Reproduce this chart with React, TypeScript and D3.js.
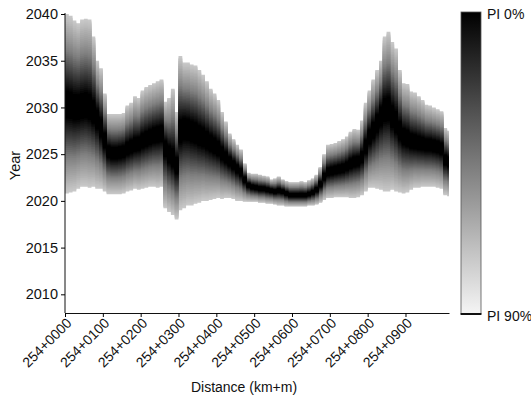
import React, { useEffect, useRef } from 'react';
import * as d3 from 'd3';

// distance along the line (m after km 254), one column every 10 m
const distances = [
  0, 10, 20, 30, 40, 50, 60, 70, 80, 90,
  100, 110, 120, 130, 140, 150, 160, 170, 180, 190,
  200, 210, 220, 230, 240, 250, 260, 270, 280, 290,
  300, 310, 320, 330, 340, 350, 360, 370, 380, 390,
  400, 410, 420, 430, 440, 450, 460, 470, 480, 490,
  500, 510, 520, 530, 540, 550, 560, 570, 580, 590,
  600, 610, 620, 630, 640, 650, 660, 670, 680, 690,
  700, 710, 720, 730, 740, 750, 760, 770, 780, 790,
  800, 810, 820, 830, 840, 850, 860, 870, 880, 890,
  900, 910, 920, 930, 940, 950, 960, 970, 980, 990,
  1000, 1010,
];
const lastDistance = 1015;

// upper bound of the 90% prediction interval (year)
const upper90 = [
  2040.0, 2039.8, 2039.3, 2039.0, 2039.4, 2039.5, 2039.4, 2037.6, 2035.0, 2034.2,
  2031.5, 2029.3, 2029.3, 2029.3, 2029.3, 2029.4, 2030.2, 2030.5, 2031.2, 2031.0,
  2031.8, 2032.2, 2032.4, 2032.6, 2032.8, 2033.0, 2030.6, 2031.0, 2032.0, 2029.5,
  2035.5, 2034.8, 2034.8, 2034.6, 2034.5, 2034.0, 2033.5, 2032.8, 2032.0, 2031.5,
  2030.8, 2029.5, 2028.5, 2027.2, 2026.6, 2026.0, 2025.5, 2024.0, 2023.0, 2022.9,
  2022.9, 2022.8, 2022.7, 2022.6, 2022.3, 2022.4, 2022.6, 2022.3, 2022.1, 2022.0,
  2022.0, 2022.0, 2022.1, 2022.0, 2022.2, 2022.4, 2022.8, 2023.6, 2025.0, 2026.0,
  2026.1, 2026.2, 2026.4, 2026.6, 2026.9, 2027.4, 2027.7, 2027.6, 2028.6, 2030.5,
  2031.8, 2033.0, 2034.0, 2035.0, 2037.6, 2038.1, 2037.0, 2036.3, 2034.0, 2032.6,
  2032.5, 2031.7, 2031.6, 2031.2, 2030.8, 2030.3, 2030.2, 2030.0, 2029.8, 2029.6,
  2027.8, 2027.5,
];

// median forecast year
const median = [
  2030.3, 2030.2, 2030.0, 2030.0, 2030.1, 2030.2, 2030.0, 2029.5, 2028.8, 2027.8,
  2026.5, 2025.3, 2025.1, 2025.1, 2025.2, 2025.3, 2025.6, 2025.8, 2026.0, 2026.1,
  2026.4, 2026.6, 2026.8, 2027.0, 2027.1, 2027.2, 2025.7, 2025.0, 2024.5, 2023.8,
  2027.5, 2027.8, 2027.7, 2027.5, 2027.3, 2027.0, 2026.8, 2026.5, 2026.2, 2025.9,
  2025.6, 2025.1, 2024.7, 2024.3, 2023.9, 2023.5, 2023.1, 2022.3, 2021.7, 2021.5,
  2021.4, 2021.3, 2021.3, 2021.2, 2021.1, 2021.0, 2021.1, 2021.0, 2020.8, 2020.6,
  2020.6, 2020.6, 2020.6, 2020.6, 2020.7, 2020.9, 2021.2, 2021.8, 2022.6, 2023.1,
  2023.2, 2023.3, 2023.4, 2023.5, 2023.7, 2024.0, 2024.2, 2024.3, 2024.7, 2025.8,
  2026.9, 2027.6, 2028.4, 2029.2, 2029.8, 2029.9, 2029.0, 2028.4, 2027.5, 2026.9,
  2026.7, 2026.4, 2026.3, 2026.2, 2026.1, 2026.0, 2026.0, 2025.9, 2025.8, 2025.6,
  2024.4, 2024.2,
];

// lower bound of the 90% prediction interval (year)
const lower90 = [
  2020.8, 2020.9, 2021.0, 2021.3, 2021.5, 2021.5, 2021.4, 2021.5, 2021.3, 2021.3,
  2021.0, 2020.7, 2020.7, 2020.7, 2020.7, 2020.8, 2021.0, 2021.1, 2021.3, 2021.2,
  2021.3, 2021.4, 2021.5, 2021.5, 2021.4, 2021.5, 2019.2, 2018.8, 2018.5, 2018.0,
  2019.0, 2019.2, 2019.5, 2019.5, 2019.7, 2019.8, 2020.0, 2020.0, 2020.1, 2020.2,
  2020.3, 2020.2, 2020.3, 2020.3, 2020.2, 2020.0, 2020.0, 2019.9, 2019.9, 2019.9,
  2019.9, 2019.8, 2019.8, 2019.7, 2019.7, 2019.6, 2019.5, 2019.5, 2019.4, 2019.4,
  2019.4, 2019.4, 2019.4, 2019.4, 2019.5, 2019.5, 2019.6, 2019.8, 2020.1, 2020.3,
  2020.3, 2020.4, 2020.4, 2020.4, 2020.4, 2020.3, 2020.3, 2020.4, 2020.6, 2021.0,
  2021.4, 2021.4, 2021.3, 2021.2, 2021.0, 2021.0, 2021.2, 2021.0, 2020.9, 2020.8,
  2020.9, 2021.2, 2021.4, 2021.4, 2021.5, 2021.5, 2021.5, 2021.5, 2021.4, 2021.3,
  2020.6, 2020.5,
];

const xTicks = [0, 100, 200, 300, 400, 500, 600, 700, 800, 900];
const yTicks = [2010, 2015, 2020, 2025, 2030, 2035, 2040];
const levelTicks = ['PI 0%', 'PI 90%'];

const FONT = '"Liberation Sans", Arial, Helvetica, sans-serif';

const App = () => {
  const ref = useRef<SVGSVGElement>(null);

  useEffect(() => {
    const svg = d3.select(ref.current);
    svg.selectAll('*').remove();

    const x = d3.scaleLinear().domain([0, lastDistance]).range([65, 449]);
    const y = d3.scaleLinear().domain([2008, 2040]).range([313, 14]);
    // colour bar scale
    const shade = d3.scaleLinear<string>().domain([0, 90]).range(['#000000', '#f5f5f5']);
    // grey used inside the fan (as rendered: black core, light grey rim)
    const fanShade = d3.scaleLinear<string>()
      .domain([0, 14, 55, 90])
      .range(['#000000', '#000000', '#808080', '#c8c8c8']);

    const cols = distances.map((d, i) => ({ d, up: upper90[i], med: median[i], lo: lower90[i] }));
    // close the last column
    cols.push({ ...cols[cols.length - 1], d: lastDistance });

    // nested prediction interval bands, widest (lightest) first
    const levels = d3.range(90, 0, -2);
    const fan = svg.append('g');
    levels.forEach(p => {
      const k = p / 90;
      const area = d3.area<any>()
        .curve(d3.curveStepAfter)
        .x(c => x(c.d))
        .y0(c => y(c.med - (c.med - c.lo) * k))
        .y1(c => y(c.med + (c.up - c.med) * k));
      fan.append('path')
        .datum(cols)
        .attr('d', area)
        .attr('fill', fanShade(p));
    });

    // axes
    const yAxis = svg.append('g')
      .attr('transform', 'translate(65,0)')
      .call(d3.axisLeft(y).tickValues(yTicks).tickFormat(d3.format('d')).tickSize(4).tickSizeOuter(0));
    yAxis.selectAll('text').attr('font-size', 14.5).attr('font-family', FONT).attr('fill', '#111');
    yAxis.select('.domain').attr('stroke', '#111').attr('d', `M0,${y(2040) - 1}V313`);

    const xAxis = svg.append('g')
      .attr('transform', 'translate(0,313)')
      .call(d3.axisBottom(x).tickValues(xTicks)
        .tickFormat(d => `254+${String(d).padStart(4, '0')}`)
        .tickSize(4).tickSizeOuter(0));
    xAxis.select('.domain').attr('stroke', '#111');
    xAxis.selectAll('text')
      .attr('font-size', 14)
      .attr('font-family', FONT)
      .attr('fill', '#111')
      .attr('text-anchor', 'end')
      .attr('dy', null)
      .attr('y', 0)
      .attr('transform', 'translate(7,11) rotate(-45)');

    svg.append('text')
      .attr('transform', `translate(20,${(y(2040) + 313) / 2 + 2}) rotate(-90)`)
      .attr('text-anchor', 'middle')
      .attr('font-size', 14.5)
      .attr('font-family', FONT)
      .attr('fill', '#111')
      .text('Year');

    svg.append('text')
      .attr('x', 244)
      .attr('y', 392)
      .attr('text-anchor', 'middle')
      .attr('font-size', 14)
      .attr('font-family', FONT)
      .attr('fill', '#111')
      .text('Distance (km+m)');

    // colour bar
    const defs = svg.append('defs');
    const grad = defs.append('linearGradient')
      .attr('id', 'pi-grad')
      .attr('x1', 0).attr('x2', 0).attr('y1', 0).attr('y2', 1);
    d3.range(0, 91, 10).forEach(p => {
      grad.append('stop').attr('offset', `${(p / 90) * 100}%`).attr('stop-color', shade(p));
    });
    const barY = d3.scaleLinear().domain([0, 90]).range([12, 314]);
    svg.append('rect')
      .attr('x', 461).attr('y', barY(0))
      .attr('width', 20).attr('height', barY(90) - barY(0))
      .attr('fill', 'url(#pi-grad)')
      .attr('stroke', '#555')
      .attr('stroke-width', 0.8);
    svg.append('line')
      .attr('x1', 460.6).attr('x2', 481.4)
      .attr('y1', barY(90)).attr('y2', barY(90))
      .attr('stroke', '#111').attr('stroke-width', 2);

    svg.selectAll('.lvl')
      .data(levelTicks)
      .enter().append('text')
      .attr('x', 487)
      .attr('y', (d, i) => barY(i === 0 ? 0 : 90) + 7)
      .attr('font-size', 14)
      .attr('font-family', FONT)
      .attr('fill', '#111')
      .text(d => d);
  }, []);

  return (
    <svg ref={ref} width={531} height={400}
      style={{ position: 'absolute', left: 0, top: 0, background: '#fff' }} />
  );
};

export default App;
